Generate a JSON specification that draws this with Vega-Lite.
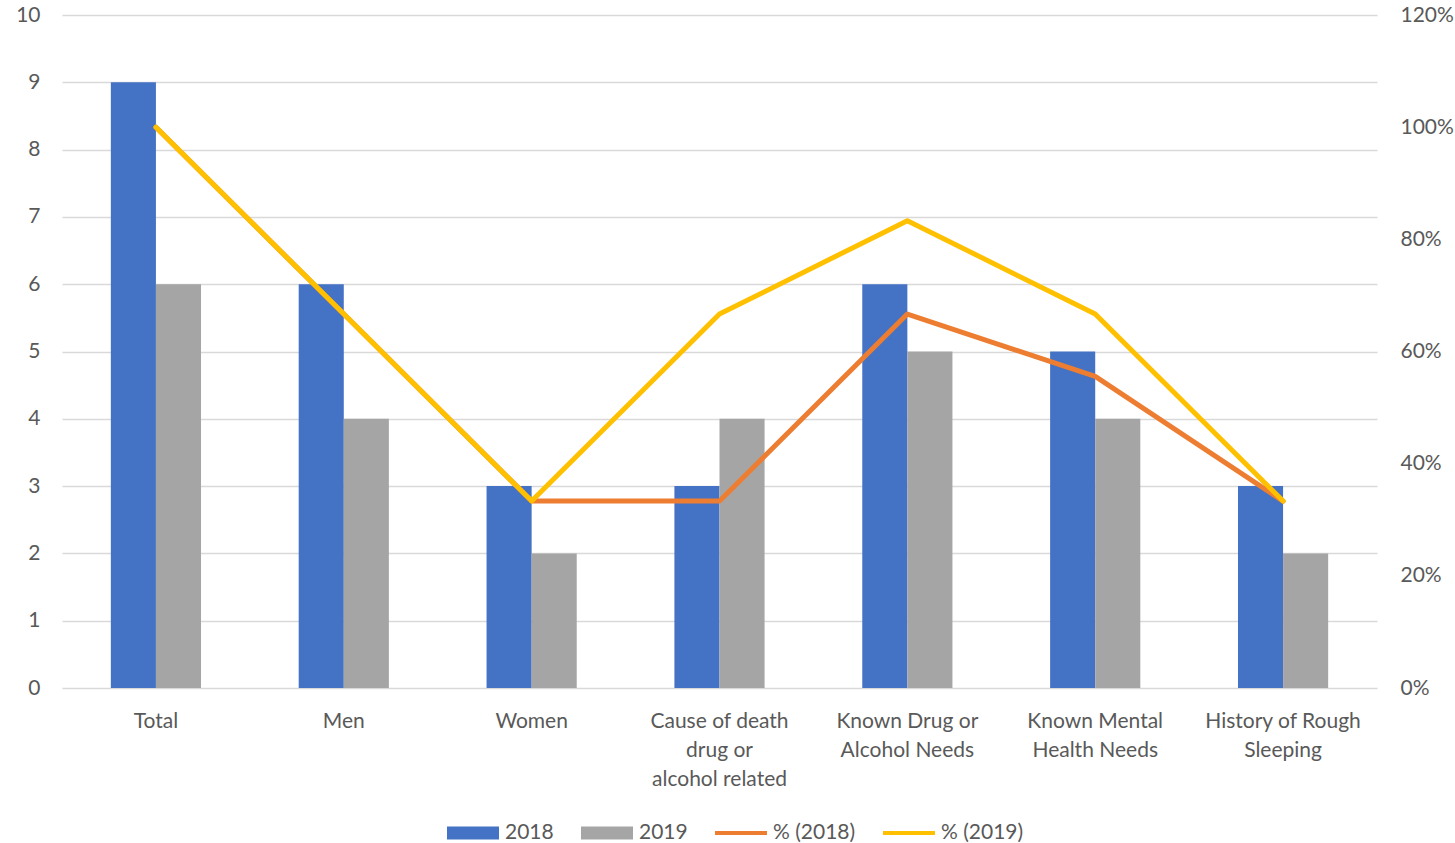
{
  "$schema": "https://vega.github.io/schema/vega-lite/v6.json",
  "width": 1315,
  "height": 673,
  "autosize": "none",
  "padding": {"left": 62, "top": 15, "right": 78, "bottom": 155},
  "background": "white",
  "config": {
    "view": {"stroke": null},
    "font": "Lato",
    "axis": {"labelFont": "Lato", "labelFontSize": 21, "labelColor": "#595959", "ticks": false, "domain": false, "titleFontSize": 0},
    "legend": {"labelFont": "Lato", "labelFontSize": 21, "labelColor": "#595959"}
  },
  "datasets": {
    "bars": [
      {"category": "Total", "series": "2018", "value": 9},
      {"category": "Total", "series": "2019", "value": 6},
      {"category": "Men", "series": "2018", "value": 6},
      {"category": "Men", "series": "2019", "value": 4},
      {"category": "Women", "series": "2018", "value": 3},
      {"category": "Women", "series": "2019", "value": 2},
      {"category": "Cause of death drug or alcohol related", "series": "2018", "value": 3},
      {"category": "Cause of death drug or alcohol related", "series": "2019", "value": 4},
      {"category": "Known Drug or Alcohol Needs", "series": "2018", "value": 6},
      {"category": "Known Drug or Alcohol Needs", "series": "2019", "value": 5},
      {"category": "Known Mental Health Needs", "series": "2018", "value": 5},
      {"category": "Known Mental Health Needs", "series": "2019", "value": 4},
      {"category": "History of Rough Sleeping", "series": "2018", "value": 3},
      {"category": "History of Rough Sleeping", "series": "2019", "value": 2}
    ],
    "lines": [
      {"category": "Total", "series": "% (2018)", "pct": 1.0},
      {"category": "Men", "series": "% (2018)", "pct": 0.6667},
      {"category": "Women", "series": "% (2018)", "pct": 0.3333},
      {"category": "Cause of death drug or alcohol related", "series": "% (2018)", "pct": 0.3333},
      {"category": "Known Drug or Alcohol Needs", "series": "% (2018)", "pct": 0.6667},
      {"category": "Known Mental Health Needs", "series": "% (2018)", "pct": 0.5556},
      {"category": "History of Rough Sleeping", "series": "% (2018)", "pct": 0.3333},
      {"category": "Total", "series": "% (2019)", "pct": 1.0},
      {"category": "Men", "series": "% (2019)", "pct": 0.6667},
      {"category": "Women", "series": "% (2019)", "pct": 0.3333},
      {"category": "Cause of death drug or alcohol related", "series": "% (2019)", "pct": 0.6667},
      {"category": "Known Drug or Alcohol Needs", "series": "% (2019)", "pct": 0.8333},
      {"category": "Known Mental Health Needs", "series": "% (2019)", "pct": 0.6667},
      {"category": "History of Rough Sleeping", "series": "% (2019)", "pct": 0.3333}
    ]
  },
  "layer": [
    {
      "data": {"name": "bars"},
      "mark": {"type": "bar"},
      "encoding": {
        "x": {
          "field": "category", "type": "nominal", "sort": null,
          "scale": {"paddingInner": 0.52, "paddingOuter": 0.26},
          "axis": {
            "title": null, "labelAngle": 0, "labelPadding": 22, "labelLineHeight": 29, "labelBaseline": "top",
            "labelExpr": "datum.label == 'Cause of death drug or alcohol related' ? ['Cause of death', 'drug or', 'alcohol related'] : datum.label == 'Known Drug or Alcohol Needs' ? ['Known Drug or', 'Alcohol Needs'] : datum.label == 'Known Mental Health Needs' ? ['Known Mental', 'Health Needs'] : datum.label == 'History of Rough Sleeping' ? ['History of Rough', 'Sleeping'] : datum.label"
          }
        },
        "xOffset": {"field": "series", "type": "nominal", "scale": {"paddingInner": 0, "paddingOuter": 0}},
        "y": {
          "field": "value", "type": "quantitative",
          "scale": {"domain": [0, 10], "nice": false},
          "axis": {"title": null, "tickCount": 10, "grid": true, "gridColor": "#D9D9D9", "gridWidth": 1.5, "labelPadding": 22, "orient": "left"}
        },
        "color": {
          "field": "series", "type": "nominal",
          "scale": {"domain": ["2018", "2019", "% (2018)", "% (2019)"], "range": ["#4472C4", "#A5A5A5", "#ED7D31", "#FFC000"]},
          "legend": {
            "title": null, "orient": "none", "direction": "horizontal",
            "legendX": 385, "legendY": 792,
            "symbolSize": 2704, "columnPadding": 27, "labelOffset": 6,
            "symbolType": "M-1,-0.25H1V0.25H-1Z",
            "encode": {
              "symbols": {
                "update": {
                  "shape": {"signal": "datum.value == '2018' || datum.value == '2019' ? 'M-1,-0.25H1V0.25H-1Z' : 'M-1,-0.08H1V0.08H-1Z'"},
                  "fill": {"scale": "color", "field": "value"},
                  "strokeWidth": {"value": 0},
                  "opacity": {"value": 1}
                }
              }
            }
          }
        }
      }
    },
    {
      "data": {"name": "lines"},
      "transform": [{"filter": "datum.series == '% (2018)'"}],
      "mark": {"type": "line", "strokeWidth": 5, "strokeCap": "round", "strokeJoin": "round"},
      "encoding": {
        "x": {"field": "category", "type": "nominal", "sort": null},
        "y": {
          "field": "pct", "type": "quantitative",
          "scale": {"domain": [0, 1.2], "nice": false},
          "axis": {"title": null, "orient": "right", "values": [0, 0.2, 0.4, 0.6, 0.8, 1.0, 1.2], "format": ".0%", "grid": false, "labelPadding": 23}
        },
        "color": {"field": "series", "type": "nominal"}
      }
    },
    {
      "data": {"name": "lines"},
      "transform": [{"filter": "datum.series == '% (2019)'"}],
      "mark": {"type": "line", "strokeWidth": 5, "strokeCap": "round", "strokeJoin": "round"},
      "encoding": {
        "x": {"field": "category", "type": "nominal", "sort": null},
        "y": {"field": "pct", "type": "quantitative", "scale": {"domain": [0, 1.2], "nice": false}, "axis": null},
        "color": {"field": "series", "type": "nominal"}
      }
    }
  ],
  "resolve": {"scale": {"y": "independent"}}
}
